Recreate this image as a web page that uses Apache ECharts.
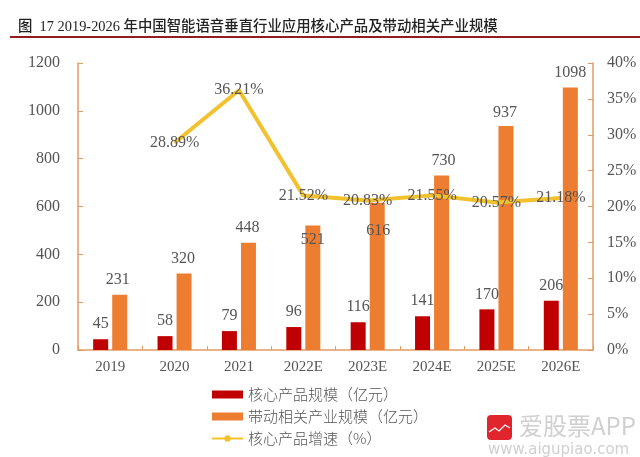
<!DOCTYPE html>
<html><head><meta charset="utf-8"><style>html,body{margin:0;background:#fff}#c{width:640px;height:457px}</style>
<script src="https://cdn.jsdelivr.net/npm/echarts@6/dist/echarts.min.js"></script></head><body><div id="c"></div>
<script>
const categories=['2019','2020','2021','2022E','2023E','2024E','2025E','2026E'];
const coreSize=[45,58,79,96,116,141,170,206];
const relatedSize=[231,320,448,521,616,730,937,1098];
const growth=[null,28.89,36.21,21.52,20.83,21.55,20.57,21.18];
const titleText='图  17 2019-2026 年中国智能语音垂直行业应用核心产品及带动相关产业规模';
const seriesNames=['核心产品规模（亿元）','带动相关产业规模（亿元）','核心产品增速（%）'];
const relatedLabelShift=[[-2,0],[-1,0],[-1,0],[0,29],[1,43],[2,0],[-1,2],[0,0]];
const F='"Liberation Serif","Noto Sans CJK SC",serif';
const axisColor='#e39a62', textColor='#555';
const withShift=(vals,shift)=>vals.map((v,i)=>({value:v,label:{offset:shift[i]}}));
const chart=echarts.init(document.getElementById('c'));
chart.setOption({animation:false,
 title:{text:titleText,left:18,top:20,padding:0,textStyle:{fontFamily:F,fontSize:14.4,fontWeight:500,color:'#222'}},
 graphic:[
  {type:'rect',shape:{x:10,y:36,width:630,height:2},style:{fill:'#8f1d22'}},
  {type:'rect',shape:{x:487,y:415,width:25,height:25,r:4},style:{fill:'#e0262c'}},
  {type:'polyline',shape:{points:[[489,432],[495,428],[499,431],[505,425],[510,428]]},style:{stroke:'#fff',fill:null,lineWidth:1.2}},
  {type:'text',style:{x:519,y:414,text:'爱股票APP',font:'24px "Noto Sans CJK SC",sans-serif',fill:'#d0d0d0'}},
  {type:'text',style:{x:488,y:443,text:'www.aigupiao.com',font:'15px "DejaVu Sans",sans-serif',fill:'#d0d0d0'}}
 ],
 legend:{orient:'vertical',left:206,top:382,itemGap:7,itemWidth:31,itemHeight:8,textStyle:{fontFamily:'"Noto Sans CJK SC",serif',fontSize:15,fontWeight:300,color:textColor},
  data:[{name:seriesNames[0],icon:'rect'},{name:seriesNames[1],icon:'rect'},{name:seriesNames[2]}]},
 grid:{left:78,right:47,top:63,bottom:107},
 xAxis:{type:'category',data:categories,axisTick:{show:true,inside:true,length:4,lineStyle:{color:axisColor}},axisLine:{lineStyle:{color:axisColor,width:1.5}},axisLabel:{fontFamily:F,fontSize:15,color:textColor,margin:10}},
 yAxis:[{type:'value',min:0,max:1200,interval:200,splitLine:{show:false},axisLine:{show:true,lineStyle:{color:axisColor,width:1.5}},axisTick:{show:true,inside:true,length:5,lineStyle:{color:axisColor}},axisLabel:{fontFamily:F,fontSize:16,color:textColor,margin:18,formatter:v=>String(v)}},
  {type:'value',min:0,max:40,interval:5,splitLine:{show:false},axisLine:{show:true,lineStyle:{color:axisColor,width:1.5}},axisTick:{show:true,inside:true,length:5,lineStyle:{color:axisColor}},axisLabel:{fontFamily:F,fontSize:16,color:textColor,formatter:'{value}%',margin:14}}],
 series:[
  {name:seriesNames[0],type:'bar',data:coreSize,barWidth:15,barGap:'27%',itemStyle:{color:'#c00000'},label:{show:true,position:'top',fontFamily:F,fontSize:16,color:textColor,distance:7}},
  {name:seriesNames[1],type:'bar',data:withShift(relatedSize,relatedLabelShift),barWidth:15,itemStyle:{color:'#ed7d31'},label:{show:true,position:'top',fontFamily:F,fontSize:16,color:textColor,distance:7}},
  {name:seriesNames[2],type:'line',yAxisIndex:1,data:growth,symbol:'circle',symbolSize:1,lineStyle:{color:'#f2c12e',width:4},itemStyle:{color:'#f2c12e'},z:3,label:{show:true,position:'inside',fontFamily:F,fontSize:16,color:textColor,formatter:p=>p.value==null?'':p.value.toFixed(2)+'%'}}
 ]});
</script></body></html>
